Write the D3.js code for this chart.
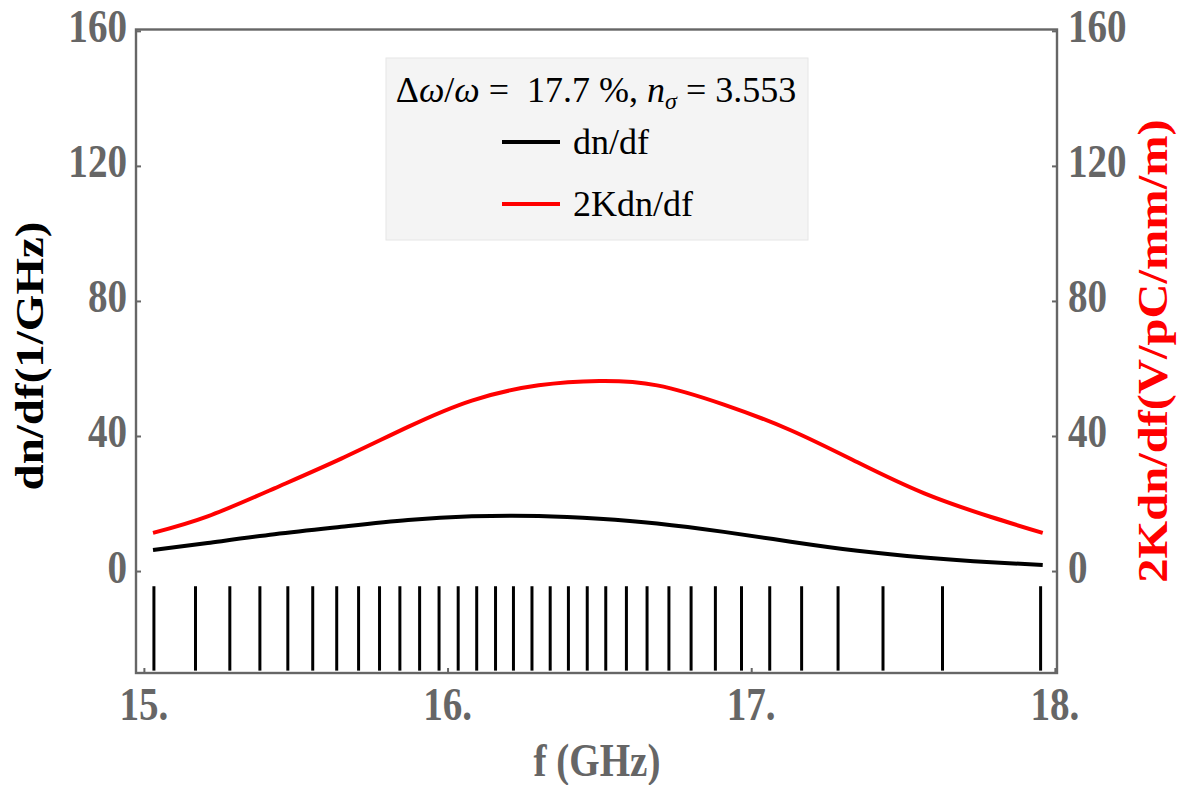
<!DOCTYPE html>
<meta charset="utf-8">
<script src="https://d3js.org/d3.v7.min.js"></script>

<style type="text/css">

body {
	margin: 0;
	background: #fff;
}

svg text {
	font-family: "Liberation Serif", "Times New Roman", serif;
}

.frame {
	fill: none;
	stroke: #666;
	stroke-width: 2.4px;
}

.ticklabel {
	font-size: 46px;
	font-weight: bold;
	fill: #666;
}

.axislabel {
	font-size: 47px;
	font-weight: bold;
}

.legendtext {
	font-size: 36px;
	fill: #000;
}

</style>

<body>
<script>

// mode frequencies (GHz) drawn as the black sticks under the curves
var modeFreqs = [15.033, 15.170, 15.283, 15.382, 15.474, 15.556, 15.635, 15.707, 15.776,
                 15.843, 15.908, 15.972, 16.035, 16.096, 16.158, 16.217, 16.278, 16.338,
                 16.398, 16.460, 16.521, 16.589, 16.657, 16.729, 16.802, 16.882, 16.968,
                 17.061, 17.166, 17.286, 17.434, 17.630, 17.953];

// curves
var curveFreqs = [15.03, 15.21, 15.43, 15.65, 15.87, 16.08, 16.30, 16.50, 16.69, 16.91,
                  17.13, 17.35, 17.57, 17.79, 17.96];
var dndf       = [6.2, 8.3, 10.9, 13.1, 15.1, 16.2, 16.3, 15.5, 14.1, 11.6,
                  8.7, 6.0, 4.0, 2.6, 1.8];
var kdndf      = [11.3, 16.2, 24.5, 33.3, 42.7, 50.5, 55.0, 56.3, 55.0, 49.3,
                  41.7, 32.2, 23.0, 16.0, 11.3];

var stickTop = -4.5, stickBottom = -29.5;

var xTicks = [15, 16, 17, 18],
    yTicks = [0, 40, 80, 120, 160];

var legendNames = ["dn/df", "2Kdn/df"],
    legendColors = ["#000", "#ff0000"];

var w = 1190, h = 785,
    squeeze = 0.85; // the original text is a bit narrow

var x = d3.scaleLinear().domain([14.974, 18.007]).range([136, 1057]);
var y = d3.scaleLinear().domain([-30.2, 160.4]).range([673, 29.5]);

var svg = d3.select("body").append("svg")
	.attr("width", w)
	.attr("height", h);

// sticks
svg.append("g").selectAll("line")
	.data(modeFreqs)
	.enter().append("line")
	  .attr("x1", function(d) { return x(d); })
	  .attr("x2", function(d) { return x(d); })
	  .attr("y1", y(stickTop))
	  .attr("y2", y(stickBottom))
	  .attr("stroke", "#000")
	  .attr("stroke-width", 3);

var line = d3.line()
	.x(function(d) { return x(d[0]); })
	.y(function(d) { return y(d[1]); })
	.curve(d3.curveNatural);

svg.append("path")
	.datum(d3.zip(curveFreqs, kdndf))
	.attr("d", line)
	.attr("fill", "none")
	.attr("stroke", "#ff0000")
	.attr("stroke-width", 4);

svg.append("path")
	.datum(d3.zip(curveFreqs, dndf))
	.attr("d", line)
	.attr("fill", "none")
	.attr("stroke", "#000")
	.attr("stroke-width", 4);

// frame with small inward ticks
svg.append("rect")
	.attr("class", "frame")
	.attr("x", x.range()[0]).attr("y", y.range()[1])
	.attr("width", x.range()[1] - x.range()[0])
	.attr("height", y.range()[0] - y.range()[1]);

var axL = svg.append("g").attr("transform", "translate(" + x.range()[0] + ",0)")
	.call(d3.axisLeft(y).tickValues(yTicks).tickSize(-5).tickFormat(""));
var axR = svg.append("g").attr("transform", "translate(" + x.range()[1] + ",0)")
	.call(d3.axisRight(y).tickValues(yTicks).tickSize(-5).tickFormat(""));
var axB = svg.append("g").attr("transform", "translate(0," + y.range()[0] + ")")
	.call(d3.axisBottom(x).tickValues(xTicks).tickSize(-5).tickFormat(""));
[axL, axR, axB].forEach(function(a) {
	a.select(".domain").remove();
	a.selectAll("line").attr("stroke", "#666").attr("stroke-width", 2);
});

// tick labels
svg.append("g").selectAll("text")
	.data(yTicks).enter().append("text")
	  .attr("class", "ticklabel")
	  .attr("text-anchor", "end")
	  .attr("transform", function(d) { return "translate(127," + (y(d) + 11.5) + ") scale(" + squeeze + ",1)"; })
	  .text(function(d) { return d; });

svg.append("g").selectAll("text")
	.data(yTicks).enter().append("text")
	  .attr("class", "ticklabel")
	  .attr("text-anchor", "start")
	  .attr("transform", function(d) { return "translate(1068," + (y(d) + 11.5) + ") scale(" + squeeze + ",1)"; })
	  .text(function(d) { return d; });

svg.append("g").selectAll("text")
	.data(xTicks).enter().append("text")
	  .attr("class", "ticklabel")
	  .attr("text-anchor", "middle")
	  .attr("transform", function(d) { return "translate(" + x(d) + ",720) scale(" + squeeze + ",1)"; })
	  .text(function(d) { return d + "."; });

// axis titles
svg.append("text")
	.attr("class", "ticklabel")
	.attr("text-anchor", "middle")
	.attr("transform", "translate(597,776) scale(" + squeeze + ",1)")
	.text("f (GHz)");

svg.append("text")
	.attr("class", "axislabel")
	.attr("fill", "#000")
	.attr("text-anchor", "middle")
	.attr("transform", "translate(43,356) scale(" + squeeze + ",1) rotate(-90)")
	.text("dn/df(1/GHz)");

svg.append("text")
	.attr("class", "axislabel")
	.attr("fill", "#ff0000")
	.style("font-size", "48.5px")
	.attr("text-anchor", "middle")
	.attr("transform", "translate(1167,351) scale(" + squeeze + ",1) rotate(-90)")
	.text("2Kdn/df(V/pC/mm/m)");

// legend
var lg = svg.append("g");

lg.append("rect")
	.attr("x", 386).attr("y", 58)
	.attr("width", 422).attr("height", 182)
	.attr("fill", "#f4f4f4")
	.attr("stroke", "#e6e6e6")
	.attr("stroke-width", 1);

var title = lg.append("text")
	.attr("class", "legendtext")
	.attr("x", 596).attr("y", 102)
	.attr("text-anchor", "middle");
title.append("tspan").text("\u0394");
title.append("tspan").attr("font-style", "italic").text("\u03c9");
title.append("tspan").text("/");
title.append("tspan").attr("font-style", "italic").text("\u03c9");
title.append("tspan").text(" =\u00a0\u00a017.7 %, ");
title.append("tspan").attr("font-style", "italic").text("n");
title.append("tspan").attr("font-style", "italic").attr("font-size", "24px").attr("dy", 7).text("\u03c3");
title.append("tspan").attr("dy", -7).text(" = 3.553");

var items = lg.selectAll(".item")
	.data(legendNames)
	.enter().append("g")
	  .attr("class", "item")
	  .attr("transform", function(d, i) { return "translate(0," + (142 + i * 62) + ")"; });

items.append("line")
	.attr("x1", 502).attr("x2", 560)
	.attr("y1", 0).attr("y2", 0)
	.attr("stroke", function(d, i) { return legendColors[i]; })
	.attr("stroke-width", 4);

items.append("text")
	.attr("class", "legendtext")
	.attr("x", 573).attr("y", 12)
	.text(function(d) { return d; });

</script>
</body>
</html>
